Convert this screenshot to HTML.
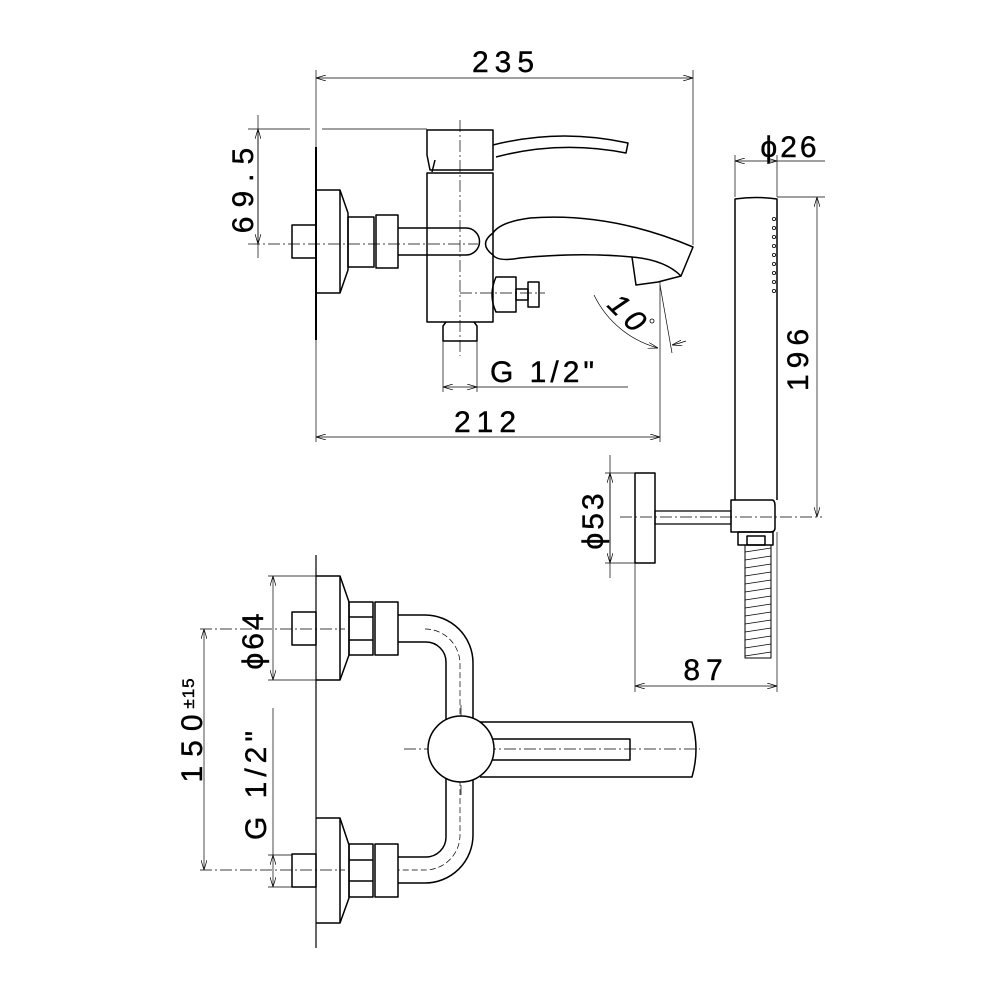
<!DOCTYPE html>
<html><head><style>html,body{margin:0;padding:0;background:#fff}svg{display:block}
text{font-family:"Liberation Sans",sans-serif;fill:#000;stroke:#000;stroke-width:0.4}</style></head><body>
<svg width="1000" height="1000" viewBox="0 0 1000 1000" xmlns="http://www.w3.org/2000/svg">
<defs>
<marker id="a" viewBox="0 0 10 6" refX="10" refY="3" markerWidth="10" markerHeight="6" orient="auto-start-reverse" markerUnits="userSpaceOnUse"><path d="M0,0 L10,3 L0,6" fill="none" stroke="#000" stroke-width="0.7"/></marker>
</defs>
<g fill="none" stroke="#000" stroke-width="0.7">
<line x1="316" y1="70" x2="316" y2="442"/>
<line x1="693" y1="70" x2="693" y2="245"/>
<line x1="316" y1="78" x2="693" y2="78" marker-start="url(#a)" marker-end="url(#a)"/>
<line x1="316" y1="437" x2="660" y2="437" marker-start="url(#a)" marker-end="url(#a)"/>
<line x1="660" y1="282" x2="660" y2="442"/>
<line x1="248" y1="129" x2="310" y2="129"/><line x1="322" y1="129" x2="427" y2="129"/>
<line x1="258" y1="115" x2="258" y2="258"/>
<line x1="258" y1="129" x2="258" y2="244" marker-start="url(#a)" marker-end="url(#a)"/>
<line x1="443" y1="341" x2="443" y2="392"/><line x1="477" y1="341" x2="477" y2="392"/>
<line x1="443" y1="387" x2="477" y2="387" marker-start="url(#a)" marker-end="url(#a)"/>
<line x1="477" y1="387" x2="628" y2="387"/>
<line x1="660" y1="285" x2="672" y2="353"/>
<path d="M594,295 A100,100 0 0 0 658,348" marker-end="url(#a)"/>
<path d="M686,341 A100,100 0 0 1 672,345" marker-end="url(#a)"/>
<g stroke-dasharray="12,3,2,3">
<line x1="248" y1="244" x2="478" y2="244"/>
<line x1="460" y1="120" x2="460" y2="356"/>
<line x1="460" y1="293" x2="545" y2="293"/>
<line x1="620" y1="517" x2="822" y2="517"/>
<line x1="404" y1="749" x2="700" y2="749"/>
<line x1="461" y1="705" x2="461" y2="795"/>
<line x1="200" y1="629" x2="345" y2="629"/>
<line x1="200" y1="870" x2="345" y2="870"/>
</g>
<line x1="735" y1="155" x2="735" y2="197"/><line x1="777" y1="155" x2="777" y2="197"/>
<line x1="735" y1="161" x2="777" y2="161" marker-start="url(#a)" marker-end="url(#a)"/>
<line x1="777" y1="161" x2="825" y2="161"/>
<line x1="777" y1="197" x2="825" y2="197"/>
<line x1="817" y1="197" x2="817" y2="517" marker-start="url(#a)" marker-end="url(#a)"/>
<line x1="605" y1="473" x2="635" y2="473"/><line x1="605" y1="563" x2="635" y2="563"/>
<line x1="610" y1="455" x2="610" y2="578"/>
<line x1="610" y1="473" x2="610" y2="563" marker-start="url(#a)" marker-end="url(#a)"/>
<line x1="635" y1="563" x2="635" y2="692"/><line x1="777" y1="532" x2="777" y2="692"/>
<line x1="635" y1="686" x2="777" y2="686" marker-start="url(#a)" marker-end="url(#a)"/>
<line x1="316" y1="555" x2="316" y2="948" stroke-width="1.2"/>
<line x1="268" y1="576" x2="340" y2="576"/><line x1="268" y1="680" x2="340" y2="680"/>
<line x1="273" y1="576" x2="273" y2="680" marker-start="url(#a)" marker-end="url(#a)"/>
<line x1="204" y1="629" x2="204" y2="870" marker-start="url(#a)" marker-end="url(#a)"/>
<line x1="273" y1="708" x2="273" y2="855"/>
<line x1="268" y1="855" x2="292" y2="855"/><line x1="268" y1="887" x2="292" y2="887"/>
<line x1="273" y1="855" x2="273" y2="887" marker-start="url(#a)" marker-end="url(#a)"/>
<path d="M425,629 A35,35 0 0 1 460,664 L460,835 A35,35 0 0 1 425,870 L398,870" stroke-dasharray="6,3"/>
</g>

<g fill="none" stroke="#000" stroke-width="1.5" stroke-linejoin="round">
<line x1="316" y1="147" x2="316" y2="340" stroke-width="2"/>
<path d="M316,190 L340,190 L348,213 L348,270 L340,293 L316,293"/>
<line x1="340" y1="190" x2="340" y2="293"/>
<rect x="292" y="225" width="24" height="33"/>
<rect x="348" y="217" width="26" height="50"/>
<rect x="376" y="215" width="22" height="53"/>
<path d="M398,228 L466,228 A13.5,13.5 0 0 1 466,255 L398,255"/>
<rect x="427" y="173" width="66" height="149"/>
<path d="M427,130 L493,130 L493,170 L430,170 L427,155 Z"/>
<path d="M435,160 L432,172"/>
<path d="M493,145 Q560,128 628,143 L626,153 Q560,140 496,157"/>
<path d="M493,233 Q500,222 530,218 Q610,212 693,247 L681,276 Q665,260 632,257 Q580,252 520,258 Q498,262 493,255 Q478,244 493,233 Z"/>
<path d="M632,257 L636,285 L658,282 L681,276"/>
<path d="M496,277 L516,277 L516,312 L496,312 Q488,295 496,277 Z"/>
<rect x="516" y="289" width="12" height="11"/>
<rect x="528" y="282" width="11" height="25"/>
<path d="M446,322 L443,326 L443,341 L477,341 L477,326 L474,322"/>
<path d="M735,500 L735,199 Q756,196 777,199 L777,500"/>
<rect x="635" y="473" width="20" height="90"/>
<rect x="655" y="511" width="76" height="13" stroke-width="1.2"/>
<path d="M731,500 L772,500 Q775,500 775,506 L775,528 Q775,532 770,532 L731,532 Z"/>
<rect x="738" y="532" width="35" height="13"/>
<rect x="747" y="536" width="18" height="9"/>
<rect x="745" y="545" width="26" height="113" stroke-width="1"/>
<path d="M316,576 L340,576 L349,602 L349,655 L340,680 L316,680"/><line x1="340" y1="576" x2="340" y2="680"/>
<rect x="292" y="612" width="24" height="33"/>
<rect x="349" y="602" width="24" height="53"/><line x1="349" y1="617" x2="373" y2="617"/><line x1="349" y1="640" x2="373" y2="640"/>
<rect x="375" y="602" width="23" height="53"/>
<path d="M316,818 L340,818 L349,845 L349,898 L340,923 L316,923"/><line x1="340" y1="818" x2="340" y2="923"/>
<rect x="292" y="854" width="24" height="33"/>
<rect x="349" y="844" width="24" height="53"/><line x1="349" y1="860" x2="373" y2="860"/><line x1="349" y1="881" x2="373" y2="881"/>
<rect x="375" y="844" width="23" height="53"/>
<path d="M398,615 L425,615 A48,48 0 0 1 473,663 L473,835 A48,48 0 0 1 425,883 L398,883"/>
<path d="M398,642 L426,642 A20,20 0 0 1 446,662 L446,837 A20,20 0 0 1 426,857 L398,857"/>
<path d="M480,722 L692,722 Q700,749 692,777 L480,777"/>
<path d="M490,739 L630,739 L630,760 L490,760"/>
<circle cx="461" cy="749" r="33" fill="#fff"/>
</g>
<g stroke="#000" stroke-width="0.7">
<path d="M745,552 L771,548 M745,560 L771,556 M745,568 L771,564 M745,576 L771,572 M745,584 L771,580 M745,592 L771,588 M745,600 L771,596 M745,608 L771,604 M745,616 L771,612 M745,624 L771,620 M745,632 L771,628 M745,640 L771,636 M745,648 L771,644 M745,656 L771,652"/>
</g>
<g fill="none" stroke="#000" stroke-width="0.8">
<circle cx="774" cy="219" r="1.6"/><circle cx="774" cy="228" r="1.6"/><circle cx="774" cy="237" r="1.6"/><circle cx="774" cy="246" r="1.6"/><circle cx="774" cy="255" r="1.6"/><circle cx="774" cy="264" r="1.6"/><circle cx="774" cy="273" r="1.6"/><circle cx="774" cy="282" r="1.6"/><circle cx="774" cy="291" r="1.6"/>
<circle cx="652" cy="321" r="2"/>
</g>
<g font-size="30" letter-spacing="6">
<text x="506" y="72" text-anchor="middle">235</text>
<text x="488" y="432" text-anchor="middle">212</text>
<text x="490" y="382" letter-spacing="4">G  1/2"</text>
<text x="790" y="157" text-anchor="middle" letter-spacing="3">ϕ26</text>
<text x="706" y="680" text-anchor="middle">87</text>
<text transform="translate(253,186) rotate(-90)" text-anchor="middle" letter-spacing="9">69.5</text>
<text transform="translate(808,357) rotate(-90)" text-anchor="middle">196</text>
<text transform="translate(603,520) rotate(-90)" text-anchor="middle" letter-spacing="3">ϕ53</text>
<text transform="translate(263,640) rotate(-90)" text-anchor="middle" letter-spacing="3">ϕ64</text>
<text transform="translate(266,783) rotate(-90)" text-anchor="middle" letter-spacing="5">G  1/2"</text>
<text transform="translate(202,744) rotate(-90)" text-anchor="middle" letter-spacing="9">150</text>
<text transform="translate(194,693) rotate(-90)" text-anchor="middle" font-size="17" letter-spacing="1">±15</text>
<text transform="translate(622,322) rotate(45)" text-anchor="middle" font-style="italic">10</text>
</g>
</svg>
</body></html>
